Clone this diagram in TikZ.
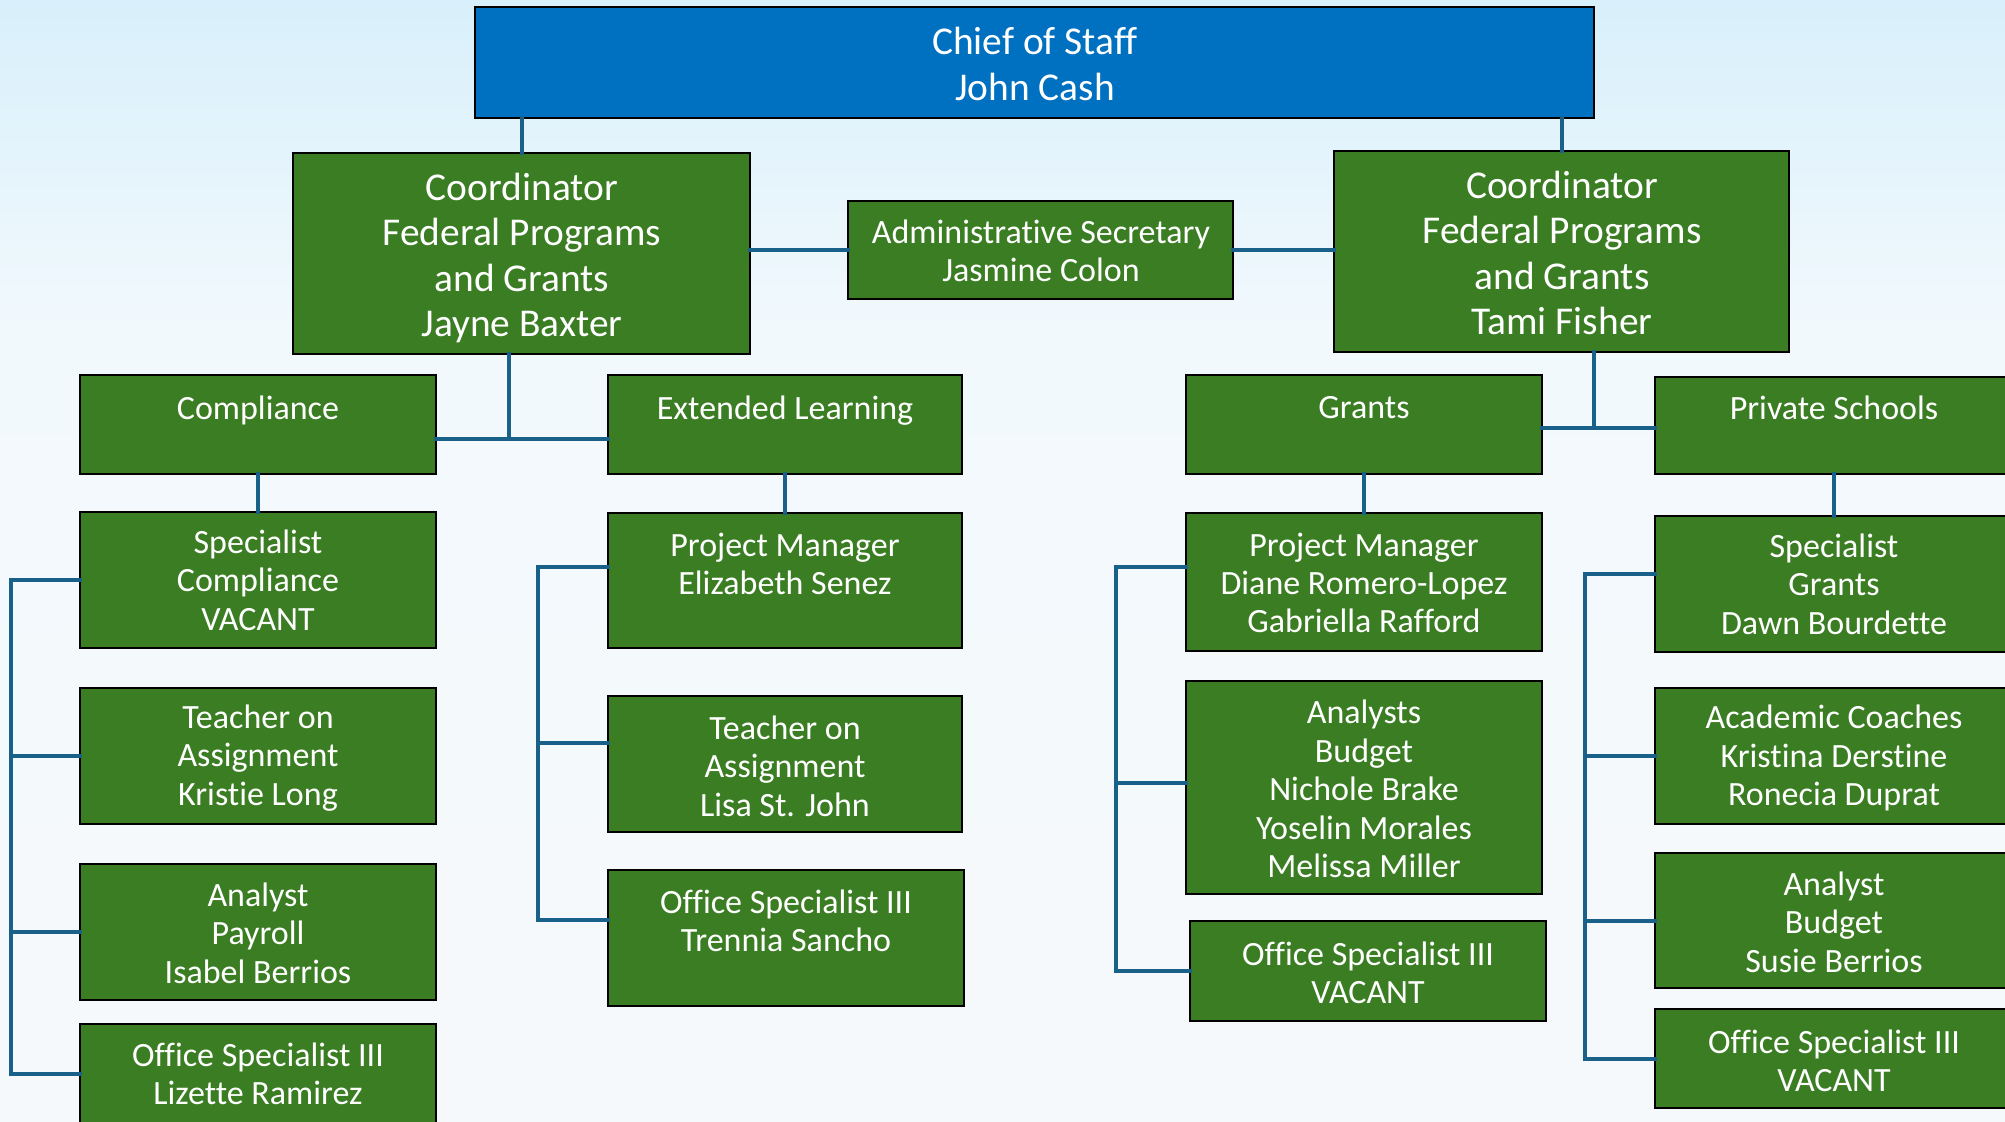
\documentclass[tikz,border=0pt]{standalone}
\usepackage{fontspec}
\setmainfont{Carlito}[Ligatures={NoCommon}]
\definecolor{bgtop}{RGB}{173,224,247}
\definecolor{bgmid}{RGB}{242,249,253}
\definecolor{bgbot}{RGB}{249,249,249}
\definecolor{boxgreen}{RGB}{59,125,35}
\definecolor{chiefblue}{RGB}{0,112,192}
\definecolor{conncol}{RGB}{26,97,137}
\pgfdeclareverticalshading{bgshade}{100bp}{color(0bp)=(bgbot); color(60bp)=(bgmid); color(100bp)=(bgtop)}
\tikzset{
  box/.style={draw=black, line width=1.2pt, fill=boxgreen, inner sep=0pt, outer sep=0pt},
  chiefbox/.style={box, fill=chiefblue},
  txt/.style={text=white, align=center, inner sep=0pt, font=\fontsize{17}{19.2}\selectfont},
  bigtxt/.style={txt, font=\fontsize{19.7}{22.6}\selectfont},
  conn/.style={draw=conncol, line width=2pt, line cap=rect, line join=miter},
}
% [style] name x1 y1 x2 y2
\newcommand\orgbox[6][box]{%
  \node[#1, minimum width={(#5-#3)*0.5pt}, minimum height={(#6-#4)*0.5pt}] (#2) at ({(#3+#5)/2},{(#4+#6)/2}) {};}
% [style] name x y text
\newcommand\orgtext[5][txt]{\node[#1] (#2t) at (#3,#4) {#5};}
\begin{document}
\begin{tikzpicture}[x=0.5pt,y=-0.5pt]
\useasboundingbox (0,0) rectangle (2005,1122);
\clip (0,0) rectangle (2005,1122);
\shade[shading=bgshade] (0,0) rectangle (2005,1122);

% boxes
\orgbox[chiefbox]{chief}{475}{7}{1594}{118}
\orgbox{jayne}{293}{153}{750}{354}
\orgbox{admin}{848}{201}{1233}{299}
\orgbox{tami}{1334}{151}{1789}{352}
\orgbox{comp}{80}{375}{436}{474}
\orgbox{ext}{608}{375}{962}{474}
\orgbox{grants}{1186}{375}{1542}{474}
\orgbox{priv}{1655}{377}{2013}{474}
\orgbox{spec}{80}{512}{436}{648}
\orgbox{kristie}{80}{688}{436}{824}
\orgbox{payroll}{80}{864}{436}{1000}
\orgbox{lizette}{80}{1024}{436}{1124}
\orgbox{eliz}{608}{513}{962}{648}
\orgbox{lisa}{608}{696}{962}{832}
\orgbox{trennia}{608}{870}{964}{1006}
\orgbox{diane}{1186}{513}{1542}{651}
\orgbox{analysts}{1186}{681}{1542}{894}
\orgbox{ofvaca}{1190}{921}{1546}{1021}
\orgbox{dawn}{1655}{516}{2013}{652}
\orgbox{coaches}{1655}{688}{2013}{824}
\orgbox{susie}{1655}{853}{2013}{988}
\orgbox{ofvacb}{1655}{1009}{2013}{1108}

% texts
\orgtext[bigtxt]{chief}{1035}{64}{Chief of Staff\\John Cash}
\orgtext[bigtxt]{jayne}{522}{258}{Coordinator\\Federal Programs\\and Grants\\Jayne Baxter}
\orgtext{admin}{1041}{251}{Administrative Secretary\\Jasmine Colon}
\orgtext[bigtxt]{tami}{1562}{253}{Coordinator\\Federal Programs\\and Grants\\Tami Fisher}
\orgtext{comp}{258}{410}{Compliance}
\orgtext{ext}{785}{411}{Extended Learning}
\orgtext{grants}{1364}{408}{Grants}
\orgtext{priv}{1834}{408}{Private Schools}
\orgtext{spec}{258}{580}{Specialist\\Compliance\\VACANT}
\orgtext{kristie}{258}{758}{Teacher on\\Assignment\\Kristie Long}
\orgtext{payroll}{258}{933}{Analyst\\Payroll\\Isabel Berrios}
\orgtext{lizette}{258}{1074}{Office Specialist III\\Lizette Ramirez}
\orgtext{eliz}{785}{564}{Project Manager\\Elizabeth Senez}
\orgtext{lisa}{785}{766}{Teacher on\\Assignment\\Lisa St. John}
\orgtext{trennia}{786}{921}{Office Specialist III\\Trennia Sancho}
\orgtext{diane}{1364}{583}{Project Manager\\Diane Romero-Lopez\\Gabriella Rafford}
\orgtext{analysts}{1364}{789}{Analysts\\Budget\\Nichole Brake\\Yoselin Morales\\Melissa Miller}
\orgtext{ofvaca}{1368}{973}{Office Specialist III\\VACANT}
\orgtext{dawn}{1834}{584}{Specialist\\Grants\\Dawn Bourdette}
\orgtext{coaches}{1834}{758}{Academic Coaches\\Kristina Derstine\\Ronecia Duprat}
\orgtext{susie}{1834}{922}{Analyst\\Budget\\Susie Berrios}
\orgtext{ofvacb}{1834}{1061}{Office Specialist III\\VACANT}

% connectors
\coordinate (jd) at (509,439);
\coordinate (td) at (1594,428);
\coordinate (lb) at (11,0);
\coordinate (eb) at (538,0);
\coordinate (gb) at (1116,0);
\coordinate (pb) at (1585,0);

\draw[conn] (jayne.north) -- (jayne.north |- chief.south);
\draw[conn] (tami.north) -- (tami.north |- chief.south);
\draw[conn] (admin.west) -- (admin.west -| jayne.east);
\draw[conn] (admin.east) -- (admin.east -| tami.west);
\draw[conn] (jayne.south -| jd) -- (jd);
\draw[conn] (comp.east |- jd) -- (ext.west |- jd);
\draw[conn] (tami.south -| td) -- (td);
\draw[conn] (grants.east |- td) -- (priv.west |- td);
\draw[conn] (comp.south) -- (spec.north);
\draw[conn] (ext.south) -- (eliz.north);
\draw[conn] (grants.south) -- (diane.north);
\draw[conn] (priv.south) -- (dawn.north);

% left bracket
\draw[conn] (spec.west) -- (spec.west -| lb) -- (lizette.west -| lb) -- (lizette.west);
\draw[conn] (kristie.west) -- (kristie.west -| lb);
\draw[conn] (payroll.west) -- (payroll.west -| lb);
% extended learning bracket
\draw[conn] ([yshift=6.75pt]eliz.west) -- ([yshift=6.75pt]eliz.west -| eb) -- ([yshift=9pt]trennia.west -| eb) -- ([yshift=9pt]trennia.west);
\draw[conn] ([yshift=10.5pt]lisa.west) -- ([yshift=10.5pt]lisa.west -| eb);
% grants bracket
\draw[conn] ([yshift=7.5pt]diane.west) -- ([yshift=7.5pt]diane.west -| gb) -- (ofvaca.west -| gb) -- (ofvaca.west);
\draw[conn] ([yshift=2.25pt]analysts.west) -- ([yshift=2.25pt]analysts.west -| gb);
% private schools bracket
\draw[conn] ([yshift=5pt]dawn.west) -- ([yshift=5pt]dawn.west -| pb) -- (ofvacb.west -| pb) -- (ofvacb.west);
\draw[conn] (coaches.west) -- (coaches.west -| pb);
\draw[conn] (susie.west) -- (susie.west -| pb);
\end{tikzpicture}
\end{document}
